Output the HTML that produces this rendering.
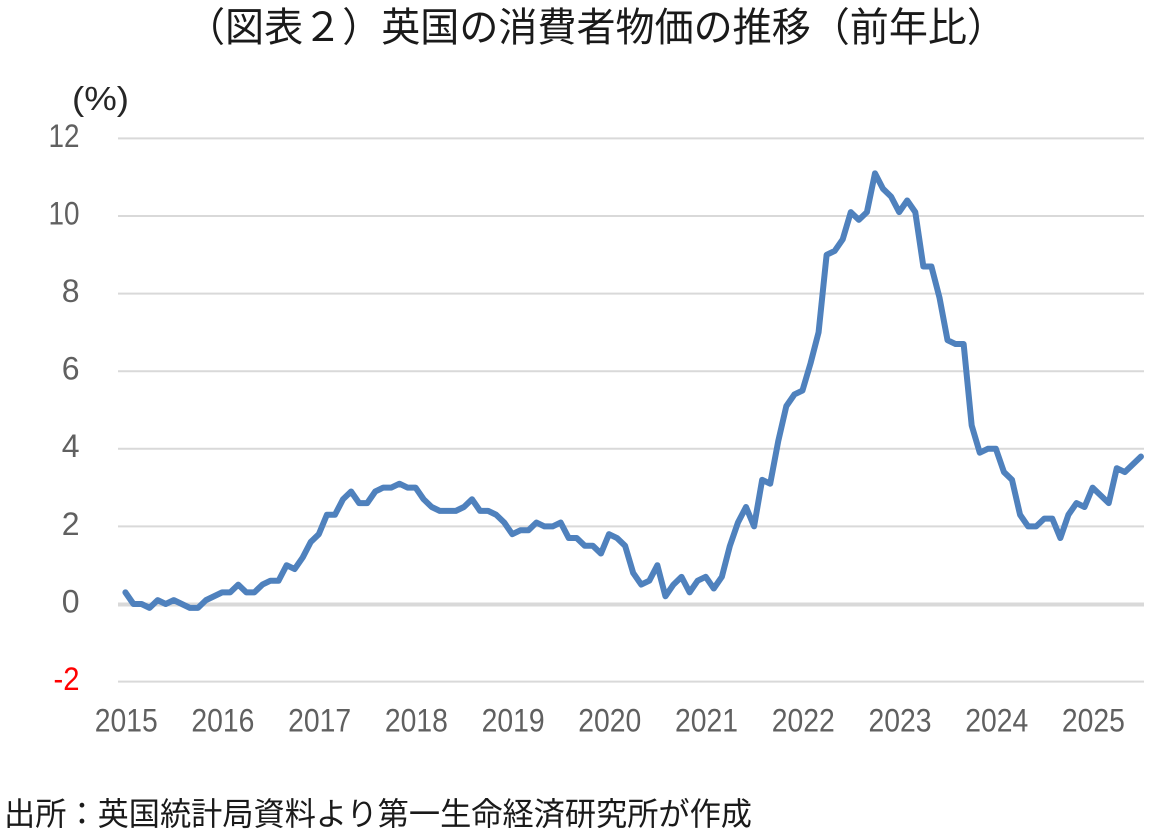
<!DOCTYPE html>
<html lang="ja">
<head>
<meta charset="utf-8">
<style>
  html, body { margin:0; padding:0; background:#ffffff; }
  body { width:1156px; height:834px; overflow:hidden; }
  svg { display:block; }
  .jp { font-family: "Liberation Sans", "Noto Sans CJK JP", sans-serif; }
  .num { font-family: "Liberation Sans", sans-serif; }
</style>
</head>
<body>
<svg width="1156" height="834" viewBox="0 0 1156 834" xmlns="http://www.w3.org/2000/svg">
  <rect x="0" y="0" width="1156" height="834" fill="#ffffff"/>

  <!-- Title -->
  <text class="jp" x="596" y="41" font-size="40" fill="#1a1a1a" text-anchor="middle" textLength="820" lengthAdjust="spacingAndGlyphs">（図表２）英国の消費者物価の推移（前年比）</text>

  <!-- Unit label -->
  <text class="num" x="72" y="110" font-size="33" fill="#262626" textLength="57" lengthAdjust="spacingAndGlyphs">(%)</text>

  <!-- Gridlines -->
  <g stroke="#d9d9d9" stroke-width="2">
    <line x1="118" y1="138.4" x2="1144" y2="138.4"/>
    <line x1="118" y1="216" x2="1144" y2="216"/>
    <line x1="118" y1="293.6" x2="1144" y2="293.6"/>
    <line x1="118" y1="371.2" x2="1144" y2="371.2"/>
    <line x1="118" y1="448.8" x2="1144" y2="448.8"/>
    <line x1="118" y1="526.4" x2="1144" y2="526.4"/>
    <line x1="118" y1="681.6" x2="1144" y2="681.6"/>
  </g>
  <line x1="118" y1="604.5" x2="1144" y2="604.5" stroke="#d9d9d9" stroke-width="4"/>

  <!-- Y axis labels -->
  <g class="num" font-size="32" fill="#606060" text-anchor="end">
    <text x="79.5" y="147" textLength="31" lengthAdjust="spacingAndGlyphs">12</text>
    <text x="79.5" y="224.5" textLength="31" lengthAdjust="spacingAndGlyphs">10</text>
    <text x="79.5" y="302">8</text>
    <text x="79.5" y="379.5">6</text>
    <text x="79.5" y="457">4</text>
    <text x="79.5" y="535">2</text>
    <text x="79.5" y="612.5">0</text>
    <text x="79.5" y="690" fill="#ff0000" textLength="26" lengthAdjust="spacingAndGlyphs">-2</text>
  </g>

  <!-- X axis labels -->
  <g class="num" font-size="32" fill="#606060" text-anchor="middle">
    <text x="126.2" y="731.5" textLength="63" lengthAdjust="spacingAndGlyphs">2015</text>
    <text x="222.9" y="731.5" textLength="63" lengthAdjust="spacingAndGlyphs">2016</text>
    <text x="319.6" y="731.5" textLength="63" lengthAdjust="spacingAndGlyphs">2017</text>
    <text x="416.4" y="731.5" textLength="63" lengthAdjust="spacingAndGlyphs">2018</text>
    <text x="513.1" y="731.5" textLength="63" lengthAdjust="spacingAndGlyphs">2019</text>
    <text x="609.8" y="731.5" textLength="63" lengthAdjust="spacingAndGlyphs">2020</text>
    <text x="706.5" y="731.5" textLength="63" lengthAdjust="spacingAndGlyphs">2021</text>
    <text x="803.2" y="731.5" textLength="63" lengthAdjust="spacingAndGlyphs">2022</text>
    <text x="900.0" y="731.5" textLength="63" lengthAdjust="spacingAndGlyphs">2023</text>
    <text x="996.7" y="731.5" textLength="63" lengthAdjust="spacingAndGlyphs">2024</text>
    <text x="1093.4" y="731.5" textLength="63" lengthAdjust="spacingAndGlyphs">2025</text>
  </g>

  <!-- Series -->
  <g transform="translate(125.4,604) scale(8.06,-38.8)">
    <polyline fill="none" stroke="#4f81bd" stroke-width="6" stroke-linejoin="round" stroke-linecap="round" vector-effect="non-scaling-stroke"
      points="0,0.3 1,0 2,0 3,-0.1 4,0.1 5,0 6,0.1 7,0 8,-0.1 9,-0.1 10,0.1 11,0.2
              12,0.3 13,0.3 14,0.5 15,0.3 16,0.3 17,0.5 18,0.6 19,0.6 20,1.0 21,0.9 22,1.2 23,1.6
              24,1.8 25,2.3 26,2.3 27,2.7 28,2.9 29,2.6 30,2.6 31,2.9 32,3.0 33,3.0 34,3.1 35,3.0
              36,3.0 37,2.7 38,2.5 39,2.4 40,2.4 41,2.4 42,2.5 43,2.7 44,2.4 45,2.4 46,2.3 47,2.1
              48,1.8 49,1.9 50,1.9 51,2.1 52,2.0 53,2.0 54,2.1 55,1.7 56,1.7 57,1.5 58,1.5 59,1.3
              60,1.8 61,1.7 62,1.5 63,0.8 64,0.5 65,0.6 66,1.0 67,0.2 68,0.5 69,0.7 70,0.3 71,0.6
              72,0.7 73,0.4 74,0.7 75,1.5 76,2.1 77,2.5 78,2.0 79,3.2 80,3.1 81,4.2 82,5.1 83,5.4
              84,5.5 85,6.2 86,7.0 87,9.0 88,9.1 89,9.4 90,10.1 91,9.9 92,10.1 93,11.1 94,10.7 95,10.5
              96,10.1 97,10.4 98,10.1 99,8.7 100,8.7 101,7.9 102,6.8 103,6.7 104,6.7 105,4.6 106,3.9 107,4.0
              108,4.0 109,3.4 110,3.2 111,2.3 112,2.0 113,2.0 114,2.2 115,2.2 116,1.7 117,2.3 118,2.6 119,2.5
              120,3.0 121,2.8 122,2.6 123,3.5 124,3.4 125,3.6 126,3.8"/>
  </g>

  <!-- Source footnote -->
  <text class="jp" x="4" y="825" font-size="32" fill="#1a1a1a" textLength="748" lengthAdjust="spacingAndGlyphs">出所：英国統計局資料より第一生命経済研究所が作成</text>
</svg>
</body>
</html>
